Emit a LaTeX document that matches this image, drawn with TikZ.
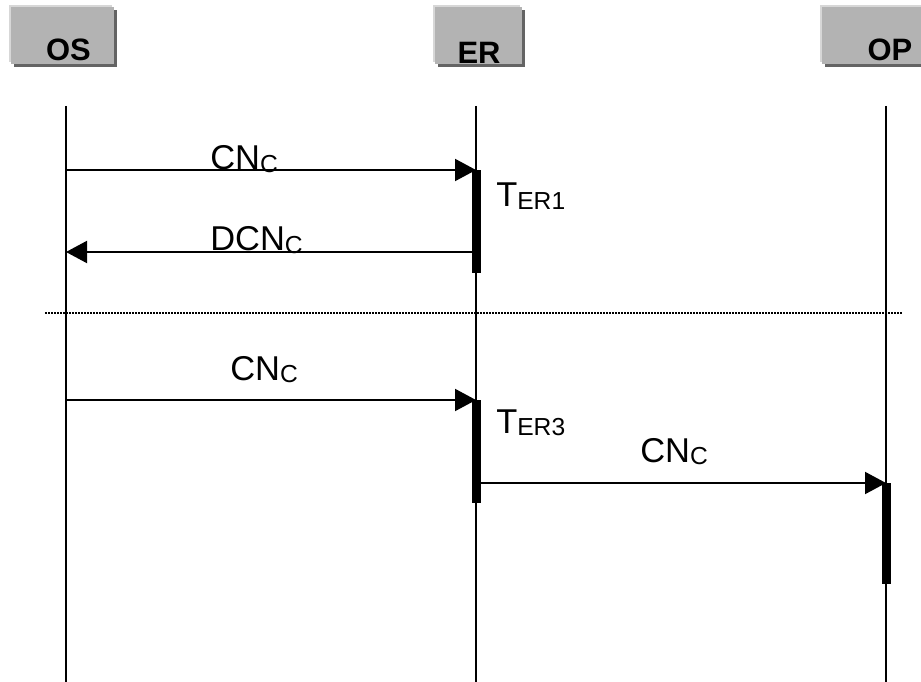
\documentclass[tikz,border=0pt]{standalone}
\usepackage{fontspec}
\setmainfont{Liberation Sans}
\usetikzlibrary{arrows.meta,shadows}

\definecolor{headgray}{RGB}{179,179,179}
\definecolor{headshade}{RGB}{100,100,100}
\definecolor{headlight}{RGB}{215,215,215}

% label with a small lowered index
\newcommand{\msglbl}[2]{#1{\fontsize{17.5}{18}\selectfont\raisebox{-1.5pt}{#2}}}

\tikzset{
  head/.style={anchor=north west, fill=headgray, minimum height=1.425cm, inner sep=0pt,
    general shadow={fill=headshade, shadow xshift=0.075cm, shadow yshift=-0.075cm},
    general shadow={fill=headlight, shadow xshift=-0.05cm, shadow yshift=0.05cm}},
  headname/.style={anchor=base, inner sep=0pt, font=\fontsize{22}{24}\selectfont\bfseries},
  life/.style={line width=1.6pt},
  msgline/.style={line width=1.4pt, -{Triangle[length=0.525cm,width=0.55cm]}},
  lbl/.style={anchor=base west, inner sep=0pt, font=\fontsize{24.5}{26}\selectfont},
  busy/.style={fill=black}
}

\begin{document}
\begin{tikzpicture}[x=0.025cm, y=-0.025cm]
    \useasboundingbox (0,0) rectangle (921,682);
    \clip (0,0) rectangle (921,682);

    % Heads
    \node[head, minimum width=2.575cm] (OSbox) at (11,7) {};
    \node[head, minimum width=2.175cm] (ERbox) at (435,7) {};
    \node[head, minimum width=2.6cm] (OPbox) at (822,7) {};
    \node[headname] (OS) at (68.5,61) {OS};
    \node[headname] (ER) at (479,64) {ER};
    \node[headname] (OP) at (890,61) {OP};

    % Lifelines
    \coordinate (OS-top) at (66,106);
    \coordinate (OS-end) at (66,682);
    \coordinate (ER-top) at (476,106);
    \coordinate (ER-end) at (476,682);
    \coordinate (OP-top) at (886,106);
    \coordinate (OP-end) at (886,682);
    \draw[life] (OS-top) -- (OS-end);
    \draw[life] (ER-top) -- (ER-end);
    \draw[life] (OP-top) -- (OP-end);

    % Message rows
    \coordinate (r1) at (0,170);
    \coordinate (r2) at (0,252);
    \coordinate (r3) at (0,400);
    \coordinate (r4) at (0,483);

    % Busy bars
    \fill[busy] (472,170) rectangle (481,273);
    \fill[busy] (472,400) rectangle (481,503);
    \fill[busy] (882,483) rectangle (891,584);

    % Messages
    \draw[msgline] (OS-top |- r1) -- (ER-top |- r1);
    \draw[msgline] (ER-top |- r2) -- (OS-top |- r2);
    \draw[msgline] (OS-top |- r3) -- (ER-top |- r3);
    \draw[msgline] (ER-top |- r4) -- (OP-top |- r4);

    % Separator
    \draw[line width=1pt, dash pattern=on 0.05cm off 0.025cm] (45,313) -- (903,313);

    % Labels
    \node[lbl] (cn1) at (210,170) {\msglbl{CN}{C}};
    \node[lbl] (ter1) at (496,207) {\msglbl{T}{ER1}};
    \node[lbl] (dcn) at (210,251) {\msglbl{DCN}{C}};
    \node[lbl] (cn2) at (230,380) {\msglbl{CN}{C}};
    \node[lbl] (ter3) at (496,433) {\msglbl{T}{ER3}};
    \node[lbl] (cn3) at (640,462) {\msglbl{CN}{C}};
\end{tikzpicture}
\end{document}
